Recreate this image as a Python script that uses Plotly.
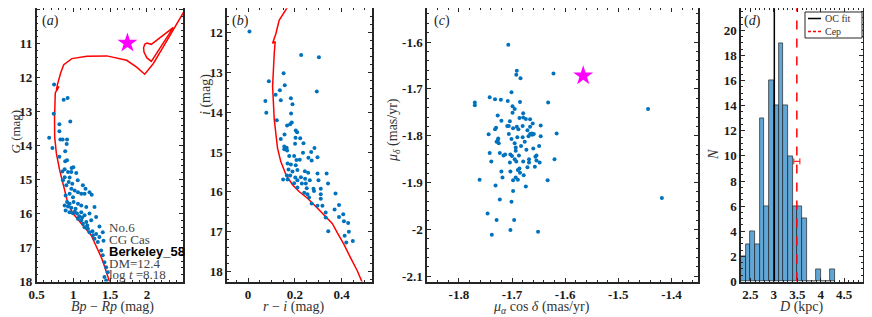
import plotly.graph_objects as go

# ---------------- data ----------------
# Panel (a): Gaia CMD members
a_color = [0.739,0.869,0.923,0.734,0.959,0.811,0.811,0.672,0.824,0.855,0.915,0.91,0.716,0.89,0.811,0.89,0.915,0.977,1.0,0.882,
           0.851,0.928,0.973,1.04,0.883,0.95,0.86,0.937,0.986,1.06,1.13,1.166,0.905,0.973,1.018,1.063,1.108,1.153,1.22,0.95,
           0.896,0.996,0.915,0.95,1.004,1.063,1.108,0.882,0.928,0.973,1.031,1.176,1.288,0.896,0.95,0.996,1.05,1.108,1.153,1.22,
           1.063,1.108,1.131,1.176,1.243,1.31,1.153,1.198,1.22,1.266,1.31,1.355,1.288,1.4,1.333,1.378,1.4,1.423,1.446,1.468,
           1.423,1.446,1.355,1.25,1.41,1.02,1.08,1.12,1.19,1.26]
a_G = [12.20,12.65,12.60,13.06,13.29,13.37,13.58,13.77,13.82,13.82,13.82,13.95,14.07,14.17,14.33,14.46,14.43,14.66,14.64,14.70,
       14.76,14.78,14.78,14.81,14.93,14.94,15.02,15.07,15.12,15.02,15.17,15.27,15.17,15.27,15.32,15.37,15.42,15.42,15.37,15.42,
       15.47,15.52,15.66,15.71,15.66,15.71,15.76,15.76,15.79,15.83,15.86,15.81,15.81,15.91,15.96,15.99,16.00,15.96,16.05,16.00,
       16.15,16.20,16.30,16.25,16.20,16.10,16.40,16.45,16.55,16.64,16.60,16.69,16.74,16.55,16.84,17.09,17.23,17.43,17.58,17.73,
       17.87,17.97,16.38,15.45,16.80,15.95,16.08,16.12,16.35,16.52]
# Panel (a): isochrone (None separates the helium-burning loop)
iso_a_color = [1.50,1.446,1.40,1.378,1.311,1.243,1.131,1.05,0.996,0.928,0.882,0.815,0.77,0.747,0.745,0.748,0.755,0.79,0.805,0.775,
               0.772,0.785,0.80,0.83,0.87,0.98,1.185,1.455,1.725,1.86,1.97,2.085,2.22,2.355,2.49,2.56,
               None,2.36,2.06,2.00,1.96,1.955,1.97,2.00,2.06,2.36]
iso_a_G = [18.06,17.68,17.40,17.28,16.94,16.64,16.35,16.12,16.00,15.71,15.32,14.73,14.23,13.75,13.20,12.76,12.45,12.30,12.26,12.38,
           12.34,12.20,12.05,11.85,11.62,11.44,11.37,11.36,11.49,11.69,11.90,11.59,11.10,10.60,10.11,9.85,
           None,10.52,11.52,11.42,11.25,11.12,11.02,10.98,11.02,10.52]
cep_a = (1.735, 10.98)

# Panel (b): r-i CMD members
b_color = [0.006,0.227,0.303,0.152,0.089,0.157,0.136,0.294,0.118,0.14,0.074,0.183,0.19,0.078,0.184,0.123,0.187,0.18,0.167,0.204,
           0.21,0.156,0.203,0.223,0.14,0.201,0.237,0.284,0.155,0.165,0.155,0.167,0.235,0.27,
           0.176,0.197,0.207,0.221,0.258,0.272,0.297,0.169,0.183,0.204,0.173,0.19,0.211,0.243,0.257,0.297,
           0.336,0.166,0.18,0.202,0.226,0.15,0.169,0.211,0.244,0.264,0.301,0.342,0.197,0.23,0.247,0.211,0.251,0.28,0.311,0.24,
           0.254,0.282,0.311,0.374,0.261,0.311,0.272,0.297,0.318,0.389,0.37,0.332,0.332,0.389,0.407,0.41,0.428,0.343,0.413,0.431,
           0.42,0.448]
b_i = [11.97,12.56,12.62,13.02,13.22,13.32,13.45,13.48,13.56,13.70,13.72,13.65,13.80,14.01,14.03,14.20,14.26,14.30,14.33,14.46,
       14.50,14.56,14.64,14.65,14.67,14.79,14.78,14.90,14.86,14.89,14.93,14.96,15.02,15.00,
       15.10,15.10,15.20,15.19,15.14,15.21,15.13,15.29,15.31,15.33,15.44,15.49,15.45,15.48,15.52,15.54,
       15.54,15.59,15.59,15.64,15.63,15.69,15.69,15.71,15.67,15.71,15.71,15.79,15.78,15.79,15.79,15.89,15.91,15.92,15.92,16.02,
       16.06,15.98,16.06,16.04,16.14,16.17,16.29,16.35,16.35,16.33,16.44,16.52,16.64,16.63,16.56,16.74,16.78,16.99,17.10,17.00,
       17.27,17.23]
iso_b_color = [0.175,0.133,0.119,0.105,0.116,0.112,0.105,0.112,0.126,0.14,0.162,0.19,0.218,0.254,0.297,0.332,0.36,0.382,0.41,0.438,
               0.467,0.488,0.50]
iso_b_i = [11.30,11.69,12.03,12.27,12.23,12.52,13.35,14.18,14.90,15.24,15.57,15.82,15.99,16.16,16.41,16.62,16.79,17.03,17.32,17.65,
           17.98,18.27,18.45]

# Panel (c): proper motions
c_pmra = [-1.707,-1.691,-1.692,-1.684,-1.622,-1.701,-1.770,-1.770,-1.742,-1.732,-1.721,-1.708,-1.685,-1.632,-1.699,-1.695,-1.679,-1.699,-1.727,-1.720,
          -1.686,-1.679,-1.674,-1.666,-1.661,-1.646,-1.704,-1.709,-1.706,-1.730,-1.732,-1.698,-1.691,-1.680,-1.688,-1.671,-1.666,-1.663,-1.666,-1.669,
          -1.744,-1.706,-1.646,-1.616,-1.726,-1.701,-1.727,-1.725,-1.729,-1.690,-1.680,-1.676,-1.695,-1.683,-1.693,-1.693,-1.673,-1.660,-1.649,-1.742,
          -1.723,-1.716,-1.713,-1.703,-1.700,-1.687,-1.656,-1.654,-1.739,-1.704,-1.695,-1.692,-1.679,-1.668,-1.668,-1.654,-1.648,-1.620,-1.657,-1.671,
          -1.686,-1.689,-1.685,-1.678,-1.720,-1.703,-1.718,-1.693,-1.698,-1.689,-1.761,-1.633,-1.731,-1.674,-1.698,-1.723,-1.701,-1.746,-1.729,-1.696,
          -1.703,-1.651,-1.738,-1.444,-1.418,-1.659,-1.662]
c_pmdec = [-1.606,-1.661,-1.670,-1.677,-1.667,-1.707,-1.729,-1.735,-1.718,-1.722,-1.723,-1.726,-1.728,-1.729,-1.737,-1.743,-1.752,-1.751,-1.757,-1.768,
           -1.762,-1.761,-1.764,-1.765,-1.774,-1.778,-1.769,-1.779,-1.779,-1.783,-1.786,-1.784,-1.781,-1.779,-1.786,-1.788,-1.781,-1.795,-1.796,-1.801,
           -1.797,-1.796,-1.801,-1.795,-1.806,-1.807,-1.810,-1.816,-1.813,-1.803,-1.803,-1.813,-1.816,-1.822,-1.825,-1.832,-1.830,-1.827,-1.822,-1.837,
           -1.837,-1.842,-1.840,-1.840,-1.843,-1.842,-1.845,-1.842,-1.855,-1.857,-1.850,-1.855,-1.855,-1.850,-1.857,-1.853,-1.857,-1.850,-1.866,-1.867,
           -1.870,-1.873,-1.879,-1.884,-1.876,-1.876,-1.889,-1.889,-1.895,-1.894,-1.894,-1.895,-1.906,-1.908,-1.918,-1.936,-1.941,-1.966,-1.980,-1.980,
           -2.001,-2.005,-2.011,-1.743,-1.933,-1.796,-1.798]
cep_c = (-1.566, -1.672)

# Panel (d): distance histogram (bin width 0.1 kpc)
d_bin_left = [2.3,2.4,2.5,2.6,2.7,2.8,2.9,3.0,3.1,3.2,3.3,3.4,3.5,3.6,3.7,3.8,3.9,4.0,4.1,4.2]
d_counts = [2,3,4,3,13,6,16,14,19,14,10,6,6,5,0,0,1,0,0,1]
d_bin_width = 0.1
oc_fit_D = 3.01
cep_D = 3.49
cep_D_err = 0.065
cep_err_y = 9.57

# tick labels
a_xticks = [0.5, 1, 1.5, 2]
a_yticks = [10, 11, 12, 13, 14, 15, 16, 17, 18]
b_xticks = [0, 0.2, 0.4]
b_yticks = [12, 13, 14, 15, 16, 17, 18]
c_xticks = [-1.8, -1.7, -1.6, -1.5, -1.4]
c_yticks = [-2.1, -2.0, -1.9, -1.8, -1.7, -1.6]
d_xticks = [2.5, 3, 3.5, 4, 4.5]
d_yticks = [0, 2, 4, 6, 8, 10, 12, 14, 16, 18, 20]

# ---------------- figure ----------------
# the page body adds an 8px offset; the figure is sized so it fits the window
OFF = 8
W, H = 872 - OFF, 317 - OFF
def fx(p): return (p - OFF) / W
def fy(p): return 1 - (p - OFF) / H

BLUE = '#0072BD'
RED = '#FF0000'
MAG = '#FF00FF'
SERIF = 'Liberation Serif'
FRAME = '#262626'

fig = go.Figure()

# panel a
fig.add_trace(go.Scatter(x=iso_a_color, y=iso_a_G, mode='lines', line=dict(color=RED, width=1.5),
                         xaxis='x', yaxis='y', showlegend=False, connectgaps=False))
fig.add_trace(go.Scatter(x=a_color, y=a_G, mode='markers', marker=dict(color=BLUE, size=4),
                         xaxis='x', yaxis='y', showlegend=False))
fig.add_trace(go.Scatter(x=[cep_a[0]], y=[cep_a[1]], mode='markers',
                         marker=dict(symbol='star', color=MAG, size=15, line=dict(width=0)),
                         xaxis='x', yaxis='y', showlegend=False))
# panel b
fig.add_trace(go.Scatter(x=iso_b_color, y=iso_b_i, mode='lines', line=dict(color=RED, width=1.5),
                         xaxis='x2', yaxis='y2', showlegend=False))
fig.add_trace(go.Scatter(x=b_color, y=b_i, mode='markers', marker=dict(color=BLUE, size=4),
                         xaxis='x2', yaxis='y2', showlegend=False))
# panel c
fig.add_trace(go.Scatter(x=c_pmra, y=c_pmdec, mode='markers', marker=dict(color=BLUE, size=4),
                         xaxis='x3', yaxis='y3', showlegend=False))
fig.add_trace(go.Scatter(x=[cep_c[0]], y=[cep_c[1]], mode='markers',
                         marker=dict(symbol='star', color=MAG, size=15, line=dict(width=0)),
                         xaxis='x3', yaxis='y3', showlegend=False))
# panel d
centers = [b + d_bin_width / 2 for b in d_bin_left]
fig.add_trace(go.Bar(x=centers, y=d_counts, width=d_bin_width,
                     marker=dict(color='rgb(98,166,214)', line=dict(color='rgba(30,30,30,0.85)', width=0.8)),
                     xaxis='x4', yaxis='y4', showlegend=False))
fig.add_trace(go.Scatter(x=[oc_fit_D, oc_fit_D], y=[0, 30], mode='lines', line=dict(color='black', width=1.5),
                         xaxis='x4', yaxis='y4', showlegend=False))
fig.add_trace(go.Scatter(x=[cep_D, cep_D], y=[0, 30], mode='lines', line=dict(color=RED, width=1.5, dash='dash'),
                         xaxis='x4', yaxis='y4', showlegend=False))
fig.add_trace(go.Scatter(x=[cep_D], y=[cep_err_y], mode='markers', marker=dict(size=1, color=RED),
                         error_x=dict(type='constant', value=cep_D_err, color=RED, thickness=1, width=3),
                         xaxis='x4', yaxis='y4', showlegend=False))

def fmt(v):
    return '<b>' + ('%g' % v) + '</b>'

def axis(dom, rng, vals, minor_dtick, anchor):
    return dict(domain=dom, range=rng, anchor=anchor, automargin=False,
                showline=True, linecolor=FRAME, linewidth=1.5,
                mirror='ticks', ticks='inside', ticklen=4, tickwidth=1, tickcolor=FRAME,
                showgrid=False, zeroline=False,
                tickmode='array', tickvals=vals, ticktext=[fmt(v) for v in vals],
                tickfont=dict(family=SERIF, size=13, color='#1a1a1a'),
                minor=dict(ticks='inside', ticklen=2, tickwidth=1, tickcolor=FRAME, dtick=minor_dtick, showgrid=False))

ydom = [fy(281.5), 0.999]
layout = dict(
    width=W, height=H, margin=dict(l=0, r=0, t=0, b=0, autoexpand=False),
    paper_bgcolor='white', plot_bgcolor='white', showlegend=False,
    xaxis=axis([fx(36.5), fx(183)], [0.5, 2.49], a_xticks, 0.1, 'y'),
    yaxis=axis(ydom, [18, 9.96], a_yticks, 0.2, 'x'),
    xaxis2=axis([fx(227), fx(372)], [-0.09, 0.53], b_xticks, 0.05, 'y2'),
    yaxis2=axis(ydom, [18.25, 11.39], b_yticks, 0.2, 'x2'),
    xaxis3=axis([fx(427), fx(698)], [-1.86, -1.35], c_xticks, 0.02, 'y3'),
    yaxis3=axis(ydom, [-2.111, -1.528], c_yticks, 0.02, 'x3'),
    xaxis4=axis([fx(741), fx(863)], [2.3, 4.9], d_xticks, 0.1, 'y4'),
    yaxis4=axis(ydom, [0, 21.75], d_yticks, 0.5, 'x4'),
    bargap=0,
)
fig.update_layout(**layout)

anns = []
def txt(x, y, s, size=14, angle=0, xanchor='center', family=SERIF, color='#333333'):
    anns.append(dict(x=fx(x), y=fy(y), xref='paper', yref='paper', text=s, showarrow=False,
                     xanchor=xanchor, yanchor='middle', textangle=angle,
                     font=dict(family=family, size=size, color=color)))

# axis titles
txt(14.5, 132, '<i>G</i> (mag)', size=13, angle=-90)
txt(112, 307, '<i>Bp</i> − <i>Rp</i> (mag)')
txt(206, 95, '<i>i</i> (mag)', angle=-90)
txt(294, 307, '<i>r</i> − <i>i</i> (mag)')
txt(394, 130, '<i>μ</i><sub><i>δ</i></sub> (mas/yr)', angle=-90)
txt(541, 307, '<i>μ</i><sub><i>α</i></sub> cos <i>δ</i> (mas/yr)')
txt(713, 155, '<i>N</i>', angle=-90)
txt(801, 307, '<i>D</i> (kpc)')
# panel labels
txt(50, 21, '(<i>a</i>)', size=14, color='#222222')
txt(240, 21, '(<i>b</i>)', size=14, color='#222222')
txt(442, 21, '(<i>c</i>)', size=14, color='#222222')
txt(752, 21, '(<i>d</i>)', size=14, color='#222222')
# info text panel a
txt(107, 227, 'No.6', size=13, xanchor='left', color='#444444')
txt(107, 239, 'CG Cas', size=13, xanchor='left', color='#444444')
txt(107, 251, '<b>Berkeley_58</b>', size=13, xanchor='left', family='Liberation Sans', color='black')
txt(107, 263, 'DM=12.4', size=13, xanchor='left', color='#444444')
txt(107, 274, 'log <i>t</i> =8.18', size=13, xanchor='left', color='#444444')
# legend text
txt(823, 18.5, 'OC fit', size=10, xanchor='left', color='#333333')
txt(823, 31.5, 'Cep', size=10, xanchor='left', color='#333333')

shapes = [
    dict(type='rect', xref='paper', yref='paper', x0=fx(805), x1=fx(862), y0=fy(38), y1=fy(12),
         line=dict(color=FRAME, width=1), fillcolor='white', layer='above'),
    dict(type='line', xref='paper', yref='paper', x0=fx(808), x1=fx(821), y0=fy(18.5), y1=fy(18.5),
         line=dict(color='black', width=1.5), layer='above'),
    dict(type='line', xref='paper', yref='paper', x0=fx(808), x1=fx(821), y0=fy(31.5), y1=fy(31.5),
         line=dict(color=RED, width=1.5, dash='3px,2px'), layer='above'),
]
fig.update_layout(annotations=anns, shapes=shapes)

fig.write_html('out.html')
